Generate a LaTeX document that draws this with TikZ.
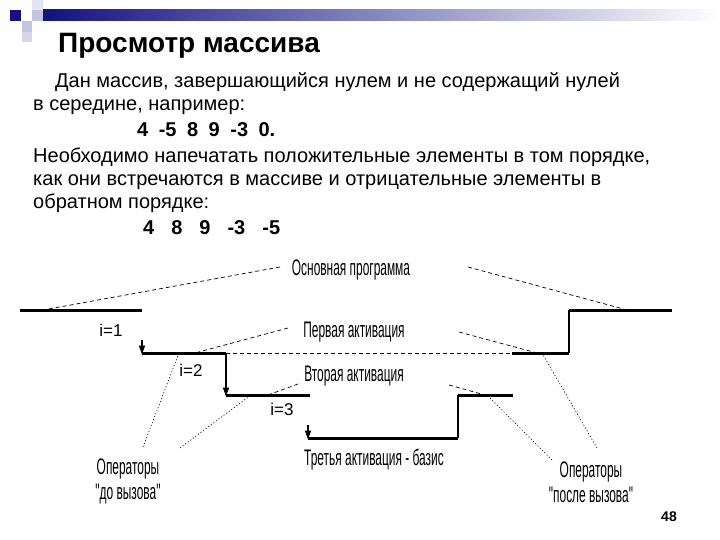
\documentclass[tikz,border=0pt]{standalone}
\usepackage{fontspec}
\setmainfont{Liberation Sans}
\newfontfamily\narrowfont[FakeStretch=0.53]{Liberation Sans}
\usetikzlibrary{arrows.meta}
\definecolor{hdrnavy}{RGB}{18,18,128}
\definecolor{sqA}{RGB}{196,196,222}
\definecolor{sqB}{RGB}{214,214,232}
\definecolor{sqC}{RGB}{228,228,240}
\begin{document}
\begin{tikzpicture}[x=1pt,y=-1pt,
  body/.style={font=\fontsize{20}{23}\selectfont, inner sep=0pt, anchor=base west},
  nums/.style={font=\fontsize{20}{23}\selectfont\bfseries, inner sep=0pt, anchor=base west},
  lbl/.style={font=\narrowfont\fontsize{22.5}{25}\selectfont, inner sep=1pt, align=center},
  ival/.style={font=\fontsize{17}{20}\selectfont, inner sep=0pt},
  stepline/.style={line width=3pt},
  riser/.style={line width=1.5pt},
  lead/.style={dash pattern=on 4pt off 3pt, line width=0.7pt},
  dotlead/.style={dash pattern=on 1.2pt off 2pt, line width=0.6pt},
  tipline/.style={-{Triangle[width=6pt,length=9pt]}, line width=1.5pt}]
\useasboundingbox (0,0) rectangle (720,540);
% header decoration
\shade[left color=hdrnavy, right color=white] (43,10) rectangle (720,21);
\fill[hdrnavy] (10,10) rectangle (21,21);
\fill[sqA] (32,10) rectangle (43,21);
\fill[sqC] (32,0) rectangle (43,10);
\fill[sqA] (22,21) rectangle (32,32);
\fill[sqB] (22,32) rectangle (32,42);
% title
\node[font=\fontsize{28}{32}\selectfont\bfseries, inner sep=0pt, anchor=base west] (title) at (58,53) {Просмотр массива};
% body text
\node[body] (l1) at (55,88) {Дан массив, завершающийся нулем и не содержащий нулей};
\node[body] (l2) at (33,111) {в середине, например:};
\node[nums] (n1) at (137,137) {4\hspace{10.5pt}-5\hspace{10.5pt}8\hspace{10.5pt}9\hspace{10.5pt}-3\hspace{10.5pt}0.};
\node[body] (l3) at (33,163) {Необходимо напечатать положительные элементы в том порядке,};
\node[body] (l4) at (33,186) {как они встречаются в массиве и отрицательные элементы в};
\node[body] (l5) at (33,209) {обратном порядке:};
\node[nums] (n2) at (143,234) {4\hspace{17pt}8\hspace{17pt}9\hspace{17pt}-3\hspace{17pt}-5};
% labels
\node[lbl] (main) at (351,270) {Основная программа};
\node[lbl] (act1) at (354,332) {Первая активация};
\node[lbl] (act2) at (354,376) {Вторая активация};
\node[lbl] (act3) at (374,460) {Третья активация - базис};
\node[lbl] (opsA) at (128,481) {Операторы\\"до вызова"};
\node[lbl] (opsB) at (591,482) {Операторы\\"после вызова"};
\node[ival] (i1) at (111,330) {i=1};
\node[ival] (i2) at (191,370) {i=2};
\node[ival] (i3) at (282,409) {i=3};
% step lines
\coordinate (a0) at (20,310);
\coordinate (a1) at (142,310);
\coordinate (b0) at (142,353);
\coordinate (b1) at (226,353);
\coordinate (b2) at (512,353);
\coordinate (b3) at (569,353);
\coordinate (a2) at (569,310);
\coordinate (a3) at (672,310);
\coordinate (c0) at (226,395);
\coordinate (c1) at (310,395);
\coordinate (c2) at (458,395);
\coordinate (c3) at (513,395);
\coordinate (d0) at (308,438);
\coordinate (d1) at (458,438);
\draw[stepline] (a0) -- (a1);
\draw[stepline] (b0) -- (b1);
\draw[lead] (b1) -- (b2);
\draw[stepline] (b2) -- (b3);
\draw[riser] (b3) -- (a2);
\draw[stepline] (a2) -- (a3);
\draw[stepline] (c0) -- (c1);
\draw[stepline] (c2) -- (c3);
\draw[riser] (c2) -- (d1);
\draw[stepline] (d0) -- (d1);
% arrows
\coordinate (t1) at (142,340);
\coordinate (t3) at (308,425);
\draw[tipline] (t1) -- ([yshift=-1.5pt]b0);
\draw[tipline] (b1) -- ([yshift=-1.5pt]c0);
\draw[tipline] (t3) -- ([yshift=-1.5pt]d0);
% leader lines
\coordinate (m1) at (43,310);
\coordinate (m2) at (627,310);
\coordinate (p1) at (195,353);
\coordinate (p2) at (537,353);
\coordinate (q1) at (268,395);
\coordinate (q2) at (485,395);
\coordinate (o1) at (179,353);
\coordinate (o2) at (251,395);
\coordinate (o3) at (487,395);
\coordinate (o4) at (542,353);
\coordinate (s1) at (280,267);
\coordinate (s2) at (468,267);
\coordinate (s3) at (288,328);
\coordinate (s4) at (459,332);
\coordinate (s5) at (298,384);
\coordinate (s6) at (449,385);
\coordinate (s7) at (143,447);
\coordinate (s8) at (180,448);
\coordinate (s9) at (552,460);
\coordinate (s10) at (597,448);
\draw[lead] (s1) -- (m1);
\draw[lead] (s2) -- (m2);
\draw[lead] (s3) -- (p1);
\draw[lead] (s4) -- (p2);
\draw[lead] (s5) -- (q1);
\draw[lead] (s6) -- (q2);
\draw[dotlead] (s7) -- (o1);
\draw[dotlead] (s8) -- (o2);
\draw[dotlead] (s9) -- (o3);
\draw[dotlead] (s10) -- (o4);
% page number
\node[font=\fontsize{14}{16}\selectfont\bfseries, inner sep=0pt] (pg) at (669,517) {48};
\end{tikzpicture}
\end{document}
